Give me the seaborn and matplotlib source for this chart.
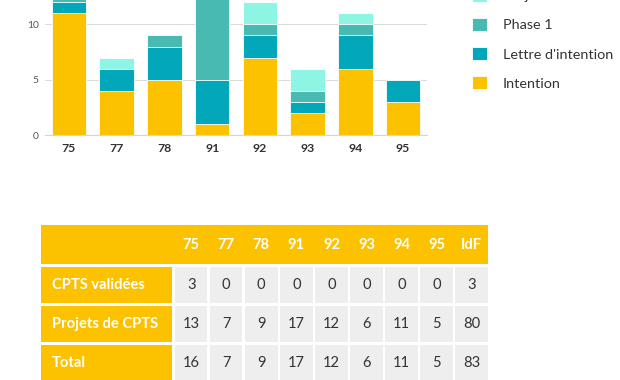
import numpy as np
import pandas as pd
import matplotlib
matplotlib.use("Agg")
import matplotlib.pyplot as plt
from matplotlib.patches import Patch, Rectangle
import seaborn as sns

# ---------------- data ----------------
departements = ["75", "77", "78", "91", "92", "93", "94", "95"]
series_names = ["Intention", "Lettre d'intention", "Phase 1", "Projet de santé"]
intention = [11, 4, 5, 1, 7, 2, 6, 3]
lettre_intention = [1, 2, 3, 4, 2, 1, 3, 2]
phase_1 = [1, 0, 1, 12, 1, 1, 1, 0]
projet_sante = [0, 1, 0, 0, 2, 2, 1, 0]

table_columns = ["75", "77", "78", "91", "92", "93", "94", "95", "IdF"]
row_labels = ["CPTS validées", "Projets de CPTS", "Total"]
cpts_validees = [3, 0, 0, 0, 0, 0, 0, 0, 3]
projets_cpts = [13, 7, 9, 17, 12, 6, 11, 5, 80]
total = [16, 7, 9, 17, 12, 6, 11, 5, 83]

colors = ["#FCC200", "#02A8B9", "#48BAB1", "#8EF4E3"]
YELLOW = "#FCC200"
CELL = "#EEEEEE"

# ---------------- style ----------------
sns.set_style("white")
plt.rcParams["font.family"] = ["Lato", "DejaVu Sans"]

W, H = 620, 380
fig = plt.figure(figsize=(W / 100, H / 100), dpi=100)

# ---------------- stacked bar chart ----------------
ax = fig.add_axes([45 / W, (H - 135.3) / H, 382 / W, 15 * 11.1 / H])
df = pd.DataFrame({"dep": departements, "Intention": intention,
                   "Lettre d'intention": lettre_intention,
                   "Phase 1": phase_1, "Projet de santé": projet_sante})
cum = df[series_names].cumsum(axis=1)
for name, col in reversed(list(zip(series_names, colors))):
    sns.barplot(x=df["dep"], y=cum[name], color=col, saturation=1,
                width=0.72, edgecolor="white", linewidth=0.6, ax=ax,
                order=departements, zorder=2)
ax.set_xlim(-0.5, len(departements) - 0.5)
ax.set_ylim(0, 15)
ax.set_yticks([0, 5, 10])
ax.set_xlabel("")
ax.set_ylabel("")
ax.yaxis.grid(True, color="#dcdcdc", linewidth=0.8)
ax.set_axisbelow(True)
for s in ["top", "right", "left"]:
    ax.spines[s].set_visible(False)
ax.spines["bottom"].set_color("#ccd6eb")
ax.spines["bottom"].set_linewidth(0.8)
ax.tick_params(axis="y", length=0, pad=4.5, labelsize=7.4, labelcolor="#555555")
ax.tick_params(axis="x", which="major", length=0, pad=5.5, labelsize=8.8,
               labelcolor="#333333")
for lbl in ax.get_xticklabels():
    lbl.set_fontweight("bold")
ax.set_xticks(np.arange(-0.5, len(departements), 1), minor=True)
ax.tick_params(axis="x", which="minor", direction="in", length=3.6,
               color="#ccd6eb", width=0.8)

handles = [Patch(facecolor=c, edgecolor="white", linewidth=0.6, label=n)
           for n, c in zip(series_names, colors)][::-1]
fig.legend(handles=handles, loc="upper left", bbox_to_anchor=(471.7 / W, 1.030),
           frameon=False, fontsize=10.4, labelcolor="#333333",
           handlelength=1.04, handleheight=1.04, handletextpad=1.11,
           labelspacing=1.08, borderpad=0, borderaxespad=0)

# ---------------- table ----------------
P = 35.05   # px per data column
R = 39.15   # px per row
tax = fig.add_axes([41 / W, (H - (225 + 4 * R)) / H, (12.823 * P) / W, 4 * R / H])
tax.set_xlim(-3.823, len(table_columns))
tax.set_ylim(4, 0)
tax.axis("off")
g = 0.075
gy = 0.07
label_x0 = -3.823
# header band
tax.add_patch(Rectangle((label_x0, 0), len(table_columns) - g - label_x0, 1.0,
                        facecolor=YELLOW, edgecolor="none"))
for j, c in enumerate(table_columns):
    tax.text(j + (1 - g) / 2, 0.5, c, ha="center", va="center", color="white",
             fontsize=10.6, fontweight="bold")
rows = [cpts_validees, projets_cpts, total]
for i, (lab, vals) in enumerate(zip(row_labels, rows)):
    y0 = 1 + gy + i
    hgt = 1 - gy
    tax.add_patch(Rectangle((label_x0, y0), -g - label_x0, hgt,
                            facecolor=YELLOW, edgecolor="none"))
    tax.text(label_x0 + 10.7 / P, y0 + hgt / 2, lab, ha="left", va="center",
             color="white", fontsize=10.6, fontweight="bold")
    for j, v in enumerate(vals):
        tax.add_patch(Rectangle((j, y0), 1 - g, hgt, facecolor=CELL,
                                edgecolor="none"))
        tax.text(j + (1 - g) / 2, y0 + hgt / 2, str(v), ha="center",
                 va="center", color="#333333", fontsize=10.6)

fig.savefig("out.png", dpi=100)
